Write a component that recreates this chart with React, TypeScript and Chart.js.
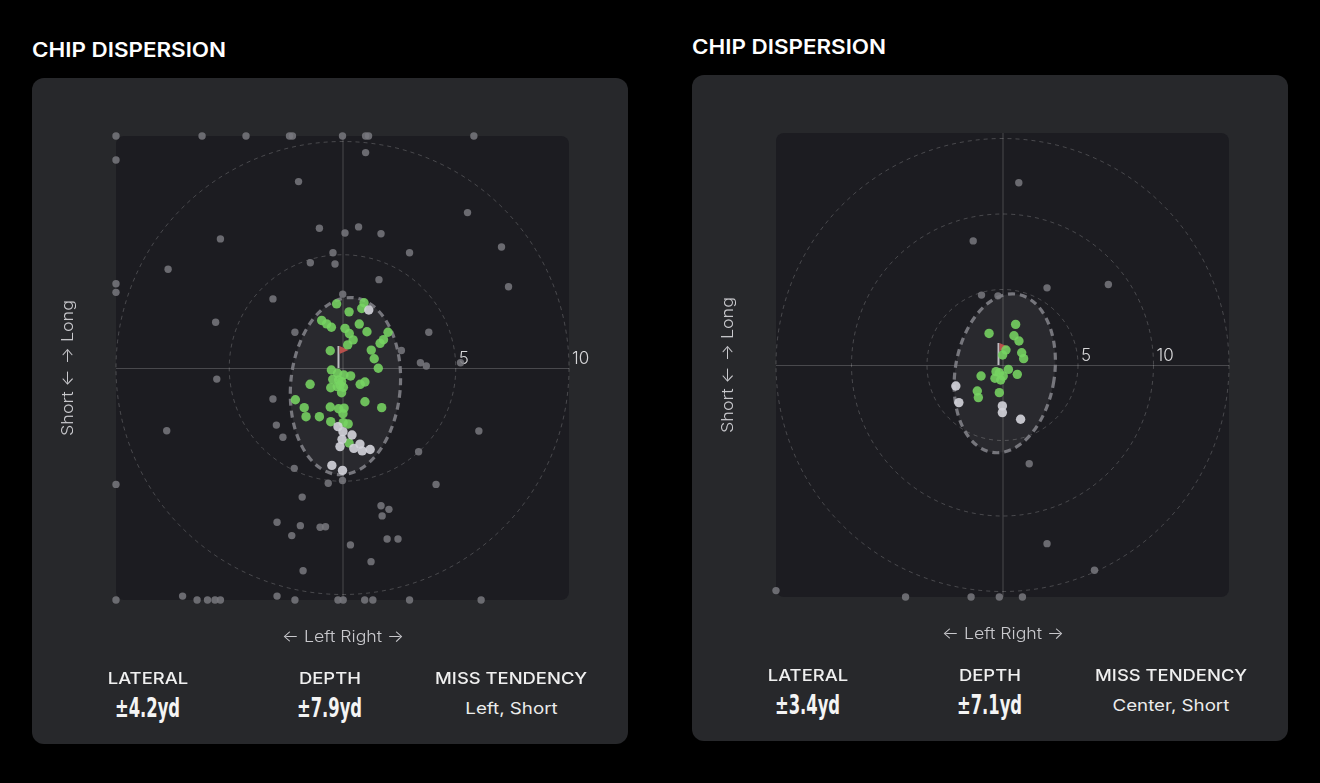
import { useEffect, useRef } from "react";
import { Chart, registerables } from "chart.js";

Chart.register(...registerables);

// ---- left session (±10 yd view) ----
const leftGreenX = [-0.26, 0.95, 0.85, 0.29, -0.92, -0.7, -0.49, 0.74, 0.11, 0.3, 0.47, 1.08, 2.01, 1.81, 1.66, 0.23, -0.54, 1.27, 1.4, 1.58, -0.49, -0.22, 0.06, 0.36, -0.17, -0.43, -0.11, 0.04, -0.04, -0.52, 0.78, 0.99, -1.43, -2.08, 0.99, 1.73, -1.69, -1.61, -1.02, -0.54, -0.17, 0.07, 0.02, -0.52, 0.03, 0.25, 0.29, -0.23, -0.04];
const leftGreenY = [2.83, 2.88, 2.63, 2.48, 2.1, 1.95, 1.8, 1.94, 1.75, 1.52, 1.24, 1.6, 1.58, 1.25, 1.09, 1.02, 0.76, 0.79, 0.41, -0.01, -0.09, -0.23, -0.31, -0.35, -0.53, -0.5, -0.75, -0.85, -1.09, -0.87, -0.72, -0.62, -0.72, -1.4, -1.49, -1.75, -1.75, -2.15, -2.15, -1.72, -1.8, -1.77, -2.02, -2.37, -2.41, -2.47, -3.31, -0.82, -0.6];
const leftLightX = [1.16, -0.2, 0.02, 0.42, -0.02, -0.11, 0.77, 0.5, 0.87, 1.22, -0.47, 0.0];
const leftLightY = [2.56, -2.59, -2.81, -2.96, -3.15, -3.47, -3.36, -3.55, -3.66, -3.6, -4.3, -4.52];
const leftGreyX = [-10.5, -6.2, -4.26, -2.34, -2.21, 0, 1.02, 1.15, 5.8, -10.5, 1.02, -1.94, 5.52, -5.39, 7.02, -1.02, 0.71, 0.11, 1.7, -7.7, -0.42, 2.96, -1.42, -0.33, 1.61, 7.33, -10.5, -10.5, -3.07, 0.01, -5.6, -2.1, 3.81, 2.6, 3.44, 3.7, 5.21, -5.55, -3.07, -7.76, 6.02, -2.92, -2.63, 3.36, -2.13, 0, -0.63, 4.13, -10.5, -1.78, 1.7, 2.05, 1.75, -2.89, -1.86, -0.99, -0.75, -2.24, 1.97, 2.45, 0.35, 1.26, -1.74, -10.5, -7.06, -6.42, -5.96, -5.63, -5.39, -2.89, -2.1, -0.2, 0.03, 0.98, 1.34, 2.96, 6.12];
const leftGreyY = [10.5, 10.5, 10.5, 10.5, 10.5, 10.5, 10.5, 10.5, 10.5, 9.18, 9.51, 8.23, 6.86, 5.7, 5.34, 6.17, 6.23, 5.96, 5.93, 4.36, 5.09, 5.09, 4.65, 4.59, 3.9, 3.59, 3.72, 3.34, 3.05, 3.26, 2.02, 1.58, 1.58, 0.77, 0.23, 0.09, 0.23, -0.49, -1.37, -2.77, -2.78, -2.52, -3.06, -3.7, -4.43, -4.97, -5.09, -5.14, -5.14, -5.7, -6.08, -6.24, -6.53, -6.81, -6.96, -7.03, -7.01, -7.4, -7.55, -7.55, -7.81, -8.55, -8.95, -10.5, -10.07, -10.5, -10.5, -10.5, -10.5, -10.07, -10.5, -10.5, -10.5, -10.5, -10.5, -10.5, -10.5];
// ellipse: centre x, centre y, half-width, half-height (yd), tilt (deg)
const leftEllipse = [0.13, -0.8, 2.42, 3.92, 5];
const leftRings = [5, 10];

// ---- right session (±15 yd view) ----
const rightGreenX = [-0.89, 0.87, 0.76, 1.09, 0.23, 0.01, 1.27, 1.4, 0.39, 0.98, -1.42, -0.43, -0.21, 0.05, -0.5, -0.12, -1.67, -1.6, -0.21];
const rightGreenY = [2.09, 2.69, 1.94, 1.59, 0.99, 0.66, 0.81, 0.42, -0.29, -0.62, -0.73, -0.44, -0.51, -0.73, -0.88, -0.99, -1.72, -2.16, -1.83];
const rightLightX = [-3.09, -2.89, -0.01, -0.01, 1.2];
const rightLightY = [-1.39, -2.49, -2.71, -3.15, -3.59];
const rightGreyX = [1.08, -1.94, 2.95, 7.01, -1.39, -0.3, 1.77, 2.95, 6.09, -16, -6.42, -2.08, -0.21, 1.32];
const rightGreyY = [12.07, 8.22, 5.11, 5.33, 4.63, 4.58, -6.54, -11.83, -13.59, -14.94, -16, -16, -16, -16];
const rightEllipse = [0.15, -0.55, 3.29, 5.3, 9];
const rightRings = [5, 10, 15];

const ringLabels = [5, 10];

const AREA_W = 453;
const AREA_H = 464;

const pts = (xs: number[], ys: number[], xMax: number, yMax: number) =>
  xs.map((x, i) => ({
    x: Math.max(-xMax, Math.min(xMax, x)),
    y: Math.max(-yMax, Math.min(yMax, ys[i])),
  }));

const targetPlugin = {
  id: "target",
  beforeDatasetsDraw(chart: any, _args: any, opts: any) {
    const { ctx, chartArea: a, scales } = chart;
    const xs = scales.x;
    const ys = scales.y;
    const cx = xs.getPixelForValue(0);
    const cy = ys.getPixelForValue(0);
    const unit = xs.getPixelForValue(1) - cx;
    ctx.save();
    // plot background
    ctx.fillStyle = "#1c1c21";
    ctx.beginPath();
    ctx.roundRect(a.left, a.top, a.right - a.left, a.bottom - a.top, 8);
    ctx.fill();
    // crosshair
    ctx.strokeStyle = "rgba(255,255,255,0.2)";
    ctx.lineWidth = 1;
    ctx.beginPath();
    ctx.moveTo(a.left, cy + 0.5);
    ctx.lineTo(a.right, cy + 0.5);
    ctx.moveTo(cx + 0.5, a.top);
    ctx.lineTo(cx + 0.5, a.bottom);
    ctx.stroke();
    // distance rings
    ctx.setLineDash([4, 4]);
    ctx.strokeStyle = "rgba(255,255,255,0.2)";
    for (const r of opts.rings) {
      ctx.beginPath();
      ctx.arc(cx, cy, r * unit, 0, Math.PI * 2);
      ctx.stroke();
    }
    // dispersion ellipse
    const [ex, ey, ew, eh, tilt] = opts.ellipse;
    const px = xs.getPixelForValue(ex);
    const py = ys.getPixelForValue(ey);
    ctx.beginPath();
    ctx.ellipse(px, py, ew * unit, eh * unit, (tilt * Math.PI) / 180, 0, Math.PI * 2);
    ctx.fillStyle = "rgba(255,255,255,0.06)";
    ctx.fill();
    ctx.setLineDash([7, 5]);
    ctx.lineWidth = 3.2;
    ctx.strokeStyle = "rgba(128,128,134,0.9)";
    ctx.stroke();
    ctx.setLineDash([]);
    // ring labels
    ctx.fillStyle = "#d6d6d8";
    ctx.font = "300 17px Inter, sans-serif";
    ctx.textAlign = "left";
    ctx.textBaseline = "bottom";
    for (const r of ringLabels) {
      ctx.fillText(String(r), cx + r * unit + 3, cy - 1);
    }
    // pin + flag
    ctx.strokeStyle = "rgba(225,225,230,0.8)";
    ctx.lineWidth = 2;
    ctx.beginPath();
    ctx.moveTo(cx - 4, cy);
    ctx.lineTo(cx - 4, cy - 22);
    ctx.stroke();
    ctx.fillStyle = "#b8504c";
    ctx.beginPath();
    ctx.moveTo(cx - 3, cy - 22);
    ctx.lineTo(cx + 6, cy - 18);
    ctx.lineTo(cx - 3, cy - 14);
    ctx.closePath();
    ctx.fill();
    ctx.restore();
  },
};

type PanelProps = {
  left: number;
  top: number;
  range: number;
  greenX: number[];
  greenY: number[];
  lightX: number[];
  lightY: number[];
  greyX: number[];
  greyY: number[];
  ellipse: number[];
  rings: number[];
  lateral: string;
  depth: string;
  miss: string;
};

const Stretch = ({ s, children }: { s: number; children: any }) => (
  <span style={{ display: "inline-block", transform: `scaleX(${s})` }}>{children}</span>
);

function DispersionCard(p: PanelProps) {
  const canvasRef = useRef<HTMLCanvasElement>(null);
  const chartRef = useRef<Chart | null>(null);

  useEffect(() => {
    if (!canvasRef.current) return;
    if (chartRef.current) chartRef.current.destroy();
    const xMax = p.range;
    const yMax = (p.range * AREA_H) / AREA_W;
    chartRef.current = new Chart(canvasRef.current, {
      type: "scatter",
      data: {
        datasets: [
          {
            data: pts(p.greyX, p.greyY, xMax, yMax),
            backgroundColor: "rgba(120,120,126,0.85)",
            pointRadius: 3.7,
            borderWidth: 0,
            clip: false,
          },
          {
            data: pts(p.lightX, p.lightY, xMax, yMax),
            backgroundColor: "rgba(212,212,220,0.9)",
            pointRadius: 4.7,
            borderWidth: 0,
            clip: false,
          },
          {
            data: pts(p.greenX, p.greenY, xMax, yMax),
            backgroundColor: "rgba(118,212,98,0.88)",
            pointRadius: 4.7,
            borderWidth: 0,
            clip: false,
          },
        ],
      },
      options: {
        responsive: true,
        maintainAspectRatio: false,
        animation: false,
        layout: { padding: { left: 84, right: 59, top: 58, bottom: 78 } },
        plugins: {
          legend: { display: false },
          tooltip: { enabled: false },
          target: { rings: p.rings, ellipse: p.ellipse },
        } as any,
        scales: {
          x: { type: "linear", min: -xMax, max: xMax, display: false },
          y: { type: "linear", min: -yMax, max: yMax, display: false },
        },
      },
      plugins: [targetPlugin],
    });
    return () => {
      if (chartRef.current) {
        chartRef.current.destroy();
        chartRef.current = null;
      }
    };
  }, []);

  const labelFont = "'Inter', sans-serif";
  const col = (cx: number, top: number, children: any, style: any) => (
    <div style={{ position: "absolute", left: cx - 110, width: 220, top, textAlign: "center", whiteSpace: "nowrap", ...style }}>
      {children}
    </div>
  );
  const valueStyle = {
    fontFamily: "'Liberation Sans Narrow', 'DejaVu Sans Condensed', 'DejaVu Sans', sans-serif",
    fontWeight: 700,
    fontSize: 26,
    lineHeight: "30px",
    color: "#f4f4f4",
  };
  const headStyle = { fontFamily: labelFont, fontWeight: 500, fontSize: 16, lineHeight: "22px", color: "#f0f0f0" };
  const axisStyle = { fontFamily: labelFont, fontWeight: 300, fontSize: 16, lineHeight: "22px", color: "#c9c9cd" };

  return (
    <div
      style={{
        position: "absolute",
        left: p.left,
        top: p.top,
        width: 596,
        height: 666,
        background: "#27282b",
        borderRadius: 12,
      }}
    >
      <div style={{ position: "absolute", left: 0, top: 0, width: 596, height: 600 }}>
        <canvas ref={canvasRef} />
      </div>
      <div
        style={{
          position: "absolute",
          left: 35,
          top: 290,
          transform: "translate(-50%, -50%) rotate(-90deg) scaleX(1.12)",
          whiteSpace: "nowrap",
          ...axisStyle,
        }}
      >
        Short ← → Long
      </div>
      {col(310.5, 547, <Stretch s={1.11}>← Left Right →</Stretch>, axisStyle)}
      {col(116, 589, <Stretch s={1.15}>LATERAL</Stretch>, headStyle)}
      {col(298, 589, <Stretch s={1.15}>DEPTH</Stretch>, headStyle)}
      {col(479, 589, <Stretch s={1.15}>MISS TENDENCY</Stretch>, headStyle)}
      {col(116, 615, <Stretch s={0.7}>{p.lateral}</Stretch>, valueStyle)}
      {col(298, 615, <Stretch s={0.7}>{p.depth}</Stretch>, valueStyle)}
      {col(479, 618, <Stretch s={1.17}>{p.miss}</Stretch>, { fontFamily: labelFont, fontWeight: 400, fontSize: 16, lineHeight: "24px", color: "#ececec" })}
    </div>
  );
}

export default function App() {
  const titleStyle = {
    position: "absolute" as const,
    fontFamily: "'Inter', sans-serif",
    fontWeight: 600,
    fontSize: 20,
    color: "#ffffff",
    lineHeight: "26px",
    transform: "scaleX(1.12)",
    transformOrigin: "left center",
    whiteSpace: "nowrap" as const,
  };
  return (
    <div style={{ position: "absolute", left: 0, top: 0, width: 1320, height: 783, background: "#000", overflow: "hidden" }}>
      <div style={{ ...titleStyle, left: 32, top: 37 }}>CHIP DISPERSION</div>
      <div style={{ ...titleStyle, left: 692, top: 34 }}>CHIP DISPERSION</div>
      <DispersionCard
        left={32}
        top={78}
        range={10}
        greenX={leftGreenX}
        greenY={leftGreenY}
        lightX={leftLightX}
        lightY={leftLightY}
        greyX={leftGreyX}
        greyY={leftGreyY}
        ellipse={leftEllipse}
        rings={leftRings}
        lateral="±4.2yd"
        depth="±7.9yd"
        miss="Left, Short"
      />
      <DispersionCard
        left={692}
        top={75}
        range={15}
        greenX={rightGreenX}
        greenY={rightGreenY}
        lightX={rightLightX}
        lightY={rightLightY}
        greyX={rightGreyX}
        greyY={rightGreyY}
        ellipse={rightEllipse}
        rings={rightRings}
        lateral="±3.4yd"
        depth="±7.1yd"
        miss="Center, Short"
      />
    </div>
  );
}
